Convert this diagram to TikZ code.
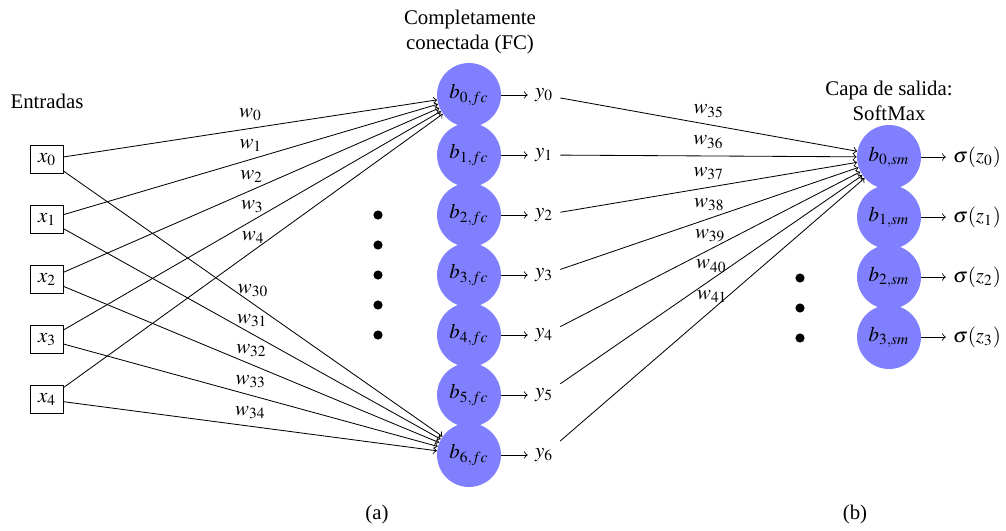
\documentclass[tikz,border=0pt]{standalone}
\usepackage{mathptmx}
\usepackage[no-math]{fontspec}
\setmainfont{Liberation Serif}
\begin{document}
\begin{tikzpicture}[x=0.48pt,y=-0.48pt,
  inbox/.style={draw,inner sep=1pt,minimum width=15.8pt,minimum height=13.4pt},
  neuron/.style={circle,fill=blue!50,inner sep=0pt,minimum size=30.7pt},
  outlbl/.style={inner sep=3.3pt},
  dotmark/.style={circle,fill=black,inner sep=0pt,minimum size=4.4pt},
  wlbl/.style={midway,above},
  link/.style={->}]
\useasboundingbox (0,0) rectangle (1006,530);

% headings
\node (tin) at (47,101) {Entradas};
\node[align=center] (tfc) at (470,32) {Completamente\\conectada (FC)};
\node[align=center] (tsm) at (889,101) {Capa de salida:\\SoftMax};
\node (capa) at (377,514) {(a)};
\node (capb) at (855,514) {(b)};

% inputs
\foreach \i in {0,...,4}
  \node[inbox] (x\i) at (47,159.5+60*\i) {$x_{\i}$};

% fully connected layer
\foreach \i in {0,...,6} {
  \node[neuron] (f\i) at (469,95+60*\i) {$b_{\i,fc}$};
  \node[outlbl] (y\i) at (544,95+60*\i) {$y_{\i}$};
  \draw[link] (f\i) -- (y\i);
}

% softmax layer
\foreach \i in {0,...,3} {
  \node[neuron] (s\i) at (889,157+60*\i) {$b_{\i,sm}$};
  \node[outlbl] (z\i) at (977,157+60*\i) {$\sigma(z_{\i})$};
  \draw[link] (s\i) -- (z\i);
}

% ellipsis dots
\foreach \k in {0,...,4}
  \node[dotmark] (da\k) at (378,215+30*\k) {};
\foreach \k in {0,...,2}
  \node[dotmark] (db\k) at (800,278+30*\k) {};

% weights into b_{0,fc} and b_{6,fc}
\foreach \i in {0,...,4} {
  \draw[link] (x\i) -- node[wlbl] {$w_{\i}$} (f0);
  \pgfmathtruncatemacro{\wn}{30+\i}
  \draw[link] (x\i) -- node[wlbl] {$w_{\wn}$} (f6);
}

% weights into b_{0,sm}
\foreach \i in {0,...,6} {
  \pgfmathtruncatemacro{\wn}{35+\i}
  \draw[link] (y\i) -- node[wlbl] {$w_{\wn}$} (s0);
}
\end{tikzpicture}
\end{document}
